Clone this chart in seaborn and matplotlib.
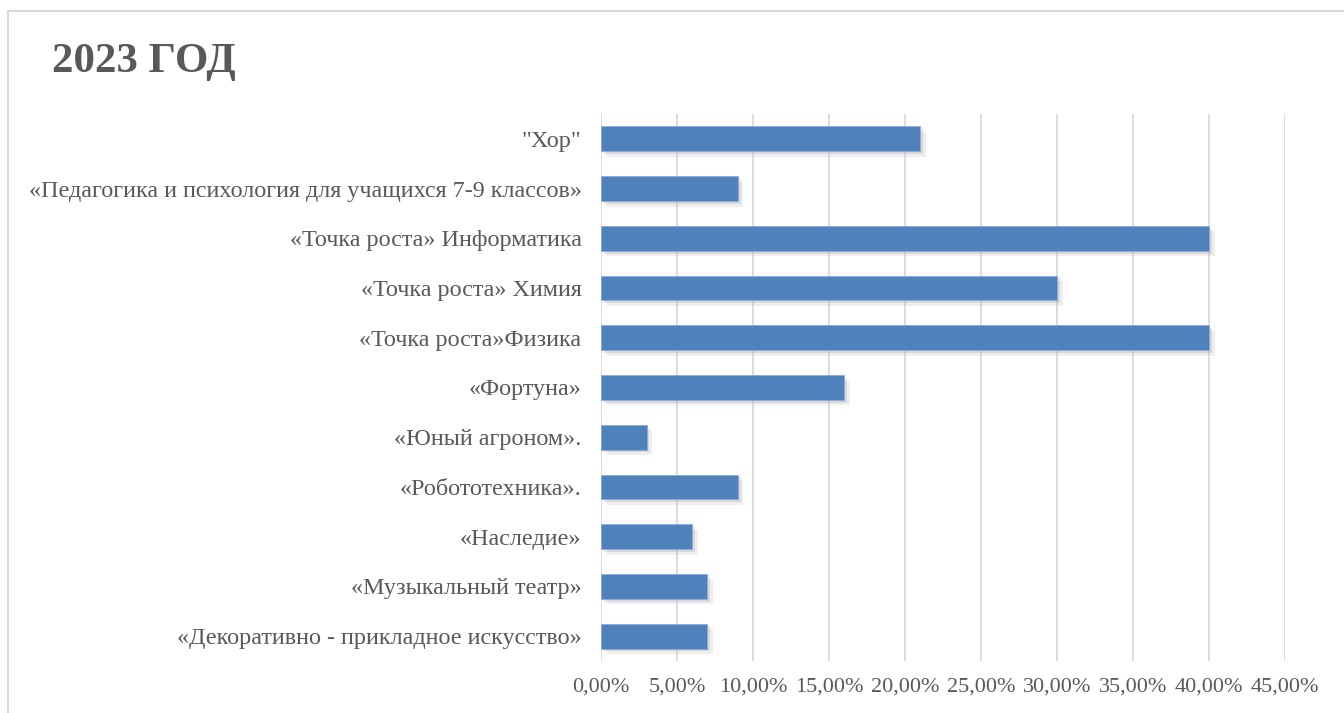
import matplotlib
matplotlib.use("Agg")
import matplotlib.pyplot as plt
import matplotlib.patheffects as pe
from matplotlib.ticker import FuncFormatter, MultipleLocator
from matplotlib.lines import Line2D
import seaborn as sns
import pandas as pd

categories = [
    '"Хор"',
    "«Педагогика и психология для учащихся 7-9 классов»",
    "«Точка роста» Информатика",
    "«Точка роста» Химия",
    "«Точка роста»Физика",
    "«Фортуна»",
    "«Юный агроном».",
    "«Робототехника».",
    "«Наследие»",
    "«Музыкальный театр»",
    "«Декоративно - прикладное искусство»",
]
values = [0.21, 0.09, 0.40, 0.30, 0.40, 0.16, 0.03, 0.09, 0.06, 0.07, 0.07]
title = "2023 ГОД"

sns.set_theme(style="white")
plt.rcParams["font.family"] = ["Liberation Serif", "DejaVu Serif"]

df = pd.DataFrame({"cat": categories, "val": values})

fig = plt.figure(figsize=(13.44, 7.13), dpi=100)
ax = fig.add_axes([601 / 1344, 1 - 661 / 713, (1285 - 601) / 1344, (661 - 114) / 713])

sns.barplot(data=df, y="cat", x="val", orient="h", color="#4F81BD",
            saturation=1, width=0.5, ax=ax, zorder=3)
for p in ax.patches:
    p.set_edgecolor("#8FAADC")
    p.set_linewidth(0.6)
    p.set_path_effects([
        pe.SimplePatchShadow(offset=(4, -4), shadow_rgbFace="#bfbfbf", alpha=0.25),
        pe.SimplePatchShadow(offset=(2, -2), shadow_rgbFace="#a6a6a6", alpha=0.3),
        pe.Normal()])

ax.set_xlim(0, 0.45)
ax.xaxis.set_major_locator(MultipleLocator(0.05))
ax.xaxis.set_major_formatter(FuncFormatter(lambda x, _: f"{x*100:.2f}%".replace(".", ",")))
ax.grid(axis="x", color="#D9D9D9", linewidth=1.3, zorder=0)
ax.set_axisbelow(True)
for s in ax.spines.values():
    s.set_visible(False)
ax.set_xlabel("")
ax.set_ylabel("")
ax.tick_params(axis="y", length=0, pad=14, labelsize=17.4, labelcolor="#595959")
ax.tick_params(axis="x", length=0, pad=12, labelsize=16, labelcolor="#595959")

fig.text(52 / 1344, 1 - 62 / 713, title, fontsize=31, fontweight="bold",
         color="#595959", va="center", ha="left")

# chart border
fig.add_artist(Line2D([8 / 1344, 1], [1 - 11 / 713, 1 - 11 / 713], color="#D9D9D9", linewidth=1.5,
                      transform=fig.transFigure))
fig.add_artist(Line2D([8 / 1344, 8 / 1344], [0, 1 - 11 / 713], color="#D9D9D9", linewidth=1.5,
                      transform=fig.transFigure))

fig.savefig("out.png", dpi=100, facecolor="white")
